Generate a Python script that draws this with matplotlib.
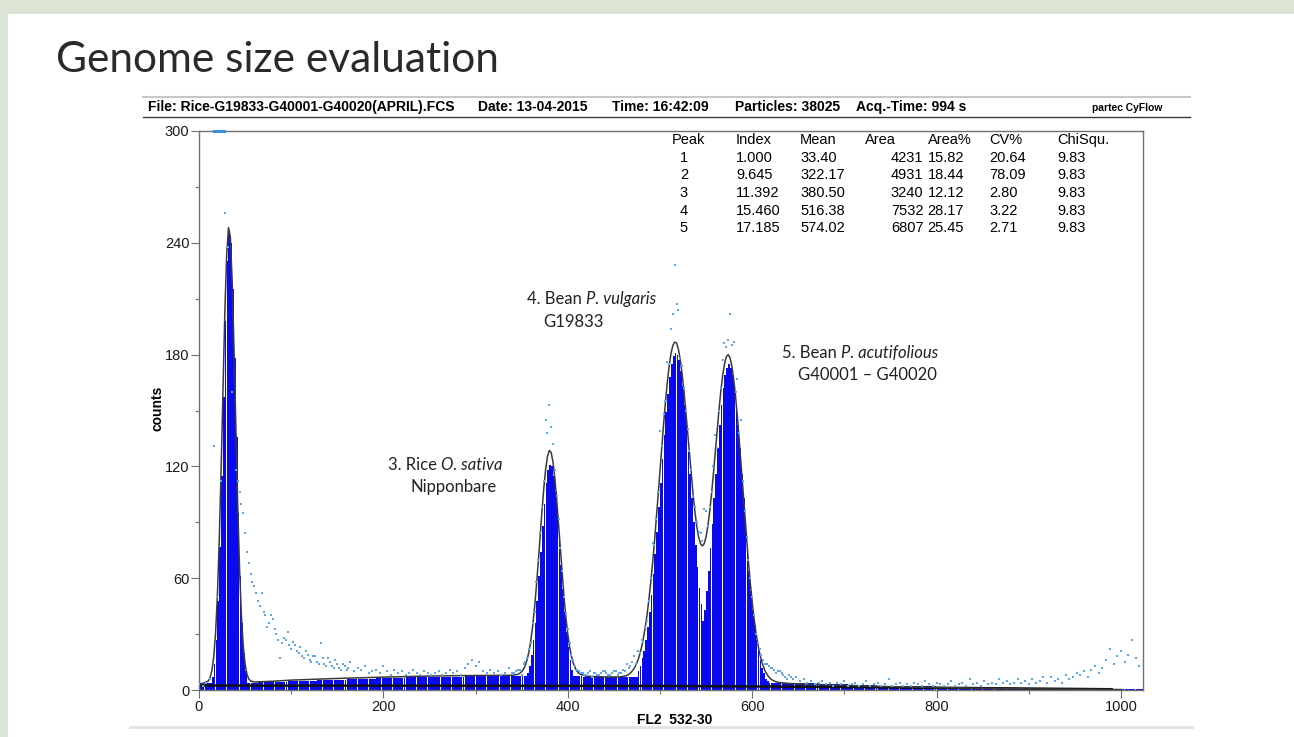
import numpy as np
import matplotlib
matplotlib.use("Agg")
import matplotlib.pyplot as plt
from matplotlib.lines import Line2D
from matplotlib.patches import Rectangle
from matplotlib.ticker import MultipleLocator

# ---------------- data ----------------
title = "Genome size evaluation"
header_file = "File: Rice-G19833-G40001-G40020(APRIL).FCS"
header_date = "Date: 13-04-2015"
header_time = "Time: 16:42:09"
header_particles = "Particles: 38025"
header_acq = "Acq.-Time: 994 s"
header_brand = "partec CyFlow"

x_label = "FL2  532-30"
y_label = "counts"
x_ticks = [0, 200, 400, 600, 800, 1000]
y_ticks = [0, 60, 120, 180, 240, 300]

table_header = ["Peak", "Index", "Mean", "Area", "Area%", "CV%", "ChiSqu."]
peak_ids = ["1", "2", "3", "4", "5"]
index_vals = ["1.000", "9.645", "11.392", "15.460", "17.185"]
mean_vals = ["33.40", "322.17", "380.50", "516.38", "574.02"]
area_vals = ["4231", "4931", "3240", "7532", "6807"]
area_pct_vals = ["15.82", "18.44", "12.12", "28.17", "25.45"]
cv_vals = ["20.64", "78.09", "2.80", "3.22", "2.71"]
chi_vals = ["9.83", "9.83", "9.83", "9.83", "9.83"]

# background bar level per 32-channel block (channels 0..1023)
baseline_levels = [3.5, 4, 4.5, 5, 5.5, 6, 6.5, 7, 7, 7.5, 7.5, 7.5, 7.5, 7, 7, 6.5,
                   6, 5.5, 5, 4, 3.5, 3, 2.5, 2, 2, 1.5, 1.5, 1, 1, 1, 0.5, 0.5]

# peak bars, 2-channel bins
peak1_start = 12
peak1_bars = [3, 7, 14, 27, 48, 77, 115, 157, 198, 230, 247, 240, 215, 178, 136, 95,
              61, 36, 20, 10, 4, 2, 1]
rice_start = 350
rice_bars = [2, 3, 5, 9, 13, 19, 27, 36, 48, 61, 74, 88, 100, 111, 118, 121, 120, 115,
             106, 94, 81, 67, 54, 42, 31, 23, 16, 11, 7, 4, 3, 1]
bean_start = 466
bean_bars = [2, 3, 4, 5, 7, 10, 13, 17, 21, 27, 34, 42, 51, 62, 73, 85, 98, 111, 124,
             137, 149, 159, 168, 175, 179, 181, 180, 177, 171, 163, 153, 142, 129, 116,
             103, 90, 78, 66, 55, 46, 37, 43, 53, 64, 76, 89, 103, 116, 130, 142, 153,
             162, 169, 173, 175, 173, 169, 162, 153, 142, 130, 116, 103, 89, 76, 64, 53,
             43, 35, 27, 21, 16, 12, 9, 6, 5, 3, 2]

# fitted curve
fit_peak1_start = 10
fit_peak1 = [4.8, 6.6, 10.4, 17.8, 30.7, 51.3, 81, 118.7, 161.1, 202, 233.4, 248.2,
             243.3, 219.3, 182.3, 139.7, 99.1, 65, 40, 23.7, 13.9, 8.5, 5.9, 4.9]
fit_rice_start = 346
fit_rice = [8.4, 9.0, 9.8, 11.2, 13.3, 16.4, 20.8, 26.8, 34.5, 44.2, 55.7, 68.5, 82.2,
            95.8, 108.2, 118.4, 125.4, 128.6, 127.5, 122.3, 113.6, 102.2, 88.9, 75.1,
            61.8, 49.6, 38.9, 30.1, 23.2, 18.1, 14.4, 11.9, 10.1, 9.0, 8.4]
fit_bean_start = 462
fit_bean = [7.5, 7.8, 8.3, 9.1, 10.2, 11.6, 13.4, 15.9, 19.0, 22.9, 27.7, 33.5, 40.4,
            48.5, 57.6, 67.9, 79.2, 91.4, 104.3, 117.2, 130.3, 142.9, 154.7, 165.2,
            173.9, 180.6, 184.9, 186.7, 186.3, 182.9, 177.4, 169.8, 160.5, 149.8, 138.4,
            126.9, 115.4, 104.8, 95.5, 87.7, 82, 78.5, 77.3, 78.5, 82.1, 88, 95.9, 105.4,
            116.1, 127.5, 139.1, 150.1, 160.2, 168.6, 174.9, 178.8, 180, 178.3, 173.9,
            166.8, 157.7, 146.6, 134.3, 121, 107.4, 93.9, 80.9, 68.6, 57.5, 47.5, 38.8,
            31.4, 25.1, 20.1, 16, 12.8, 10.3, 8.5, 7.1, 6.0, 5.3, 4.8, 4.4, 4.2, 4.0]
fit_bg_ch = [0, 5, 60, 80, 100, 150, 200, 250, 300, 340, 420, 440, 456, 640, 660, 700,
             750, 800, 850, 900, 950, 1000]
fit_bg_ct = [3.4, 3.6, 4.3, 4.7, 5.3, 6.2, 6.9, 7.5, 7.8, 7.9, 7.4, 7.0, 7.0, 3.5, 3.1,
             2.5, 1.8, 1.3, 0.9, 0.55, 0.35, 0.25]

# dark floor line
floor_ch = [0, 500, 700, 850, 990]
floor_ct = [2.4, 2.2, 1.6, 1.0, 0.4]

# raw data points, every 4 channels from 0
dots_a = [3, 2, 4, 6, 131, 50, 112, 256, 238, 160, 118, 106, 95, 74, 62, 56,
          48, 52, 40, 36, 38, 30, 17, 28, 31, 22, 24, 20, 18, 21, 16, 18,
          15, 25, 14, 17, 13, 16, 12, 14, 11, 15, 10, 12, 11, 13, 9, 10,
          11, 9, 13, 10, 8, 11, 9, 10, 8, 9, 11, 9, 8, 10, 9, 8,
          9, 10, 8, 9, 11, 9, 10, 8, 12, 14, 16, 13, 15, 10, 9, 11,
          9, 10, 8, 9, 12, 9, 10, 11, 14, 17, 25, 42, 70, 98, 145, 153,
          132, 104, 76, 50, 33, 19, 13, 10, 9, 8, 10, 9, 8, 9, 10, 8,
          9, 10, 9, 11, 14, 13, 18, 21, 27, 34, 48, 79, 92, 139, 148, 176,
          194, 228, 204, 174, 150, 128, 104, 90, 84, 97, 88, 106, 137, 150, 177, 184,
          202, 187, 167, 145, 96, 70, 50, 30, 22, 16, 14, 12, 11, 10, 9, 7,
          8, 6, 7, 5, 6, 4, 5, 3, 4, 5, 3, 4, 2, 4, 3, 5,
          2, 3, 4, 2, 3, 5, 2, 3, 4, 2, 3, 6, 2, 3, 4, 2,
          3, 2, 4, 3, 2, 5, 3, 2, 4, 3, 2, 3, 5, 2, 3, 4,
          2, 6, 3, 4, 2, 5, 3, 4, 3, 6, 4, 5, 3, 4, 6, 4,
          5, 3, 6, 4, 5, 7, 4, 7, 5, 6, 4, 8, 6, 7, 9, 8,
          10, 7, 11, 13, 9, 12, 16, 22, 14, 18, 21, 15, 19, 27, 17, 13]
# extra points in the debris tail, every 4 channels from 42
dots_tail_start = 42
dots_tail = [112, 100, 84, 68, 58, 52, 45, 42, 34, 40, 33, 27, 25, 27, 24, 26, 21, 23,
             17, 19, 15, 18, 14, 17, 13, 15, 12, 14, 11, 13, 12]
# extra points around the peaks, every 4 channels from 342
dots_peaks_start = 342
dots_peaks = [9, 11, 8, 15, 22, 36, 58, 84, 112, 138, 141, 118, 92, 64, 41, 25, 16, 11,
              9, 8, 9, 7, 9, 8, 10, 9, 8, 10, 8, 9, 10, 12, 15, 14, 20, 26, 37, 60, 78,
              106, 131, 155, 175, 202, 207, 178, 162, 140, 118, 98, 85, 80, 96, 98, 120,
              130, 162, 186, 188, 185, 160, 138, 112, 82, 60, 40, 25, 19, 14, 13, 12, 9,
              10, 8, 6, 7]
# off-scale points drawn on the top edge
top_mark_ch = [16, 27]
top_mark_ct = [300, 300]

# ---------------- figure ----------------
W, H = 1294, 737
plt.rcParams['font.family'] = ['Liberation Sans', 'DejaVu Sans']


def fx(px):
    return px / W


def fy(py):
    return 1 - py / H


fig = plt.figure(figsize=(W / 100, H / 100), dpi=100, facecolor='#dce4d6')
fig.add_artist(Rectangle((fx(8), 0), 1, fy(14), transform=fig.transFigure,
                         facecolor='white', edgecolor='none', zorder=-1))

ax = fig.add_axes([fx(199), fy(690), (1143 - 199) / W, (690 - 131) / H])
ax.set_facecolor('white')

# bars
bar_heights = np.repeat(np.array(baseline_levels, float), 16)
for start, vals in [(peak1_start, peak1_bars), (rice_start, rice_bars), (bean_start, bean_bars)]:
    i0 = start // 2
    seg = bar_heights[i0:i0 + len(vals)]
    bar_heights[i0:i0 + len(vals)] = np.maximum(seg, vals)
bar_ch = np.arange(len(bar_heights)) * 2
ax.bar(bar_ch, bar_heights, width=1.8, align='edge', color='#0a0aee',
       edgecolor='none', linewidth=0, antialiased=False, zorder=1)

# floor line
ax.plot(floor_ch, floor_ct, color='#111111', lw=1.8, zorder=2)

# fit curve
fch, fct = list(fit_bg_ch), list(fit_bg_ct)
for start, vals in [(fit_peak1_start, fit_peak1), (fit_rice_start, fit_rice), (fit_bean_start, fit_bean)]:
    fch += list(start + 2 * np.arange(len(vals)))
    fct += list(vals)
order = np.argsort(fch)
ax.plot(np.array(fch)[order], np.array(fct)[order], color='#3a3a3a', lw=1.1, zorder=3)

# raw points
dot_col = '#5aa8f2'
for start, vals in [(0, dots_a), (dots_tail_start, dots_tail), (dots_peaks_start, dots_peaks)]:
    ax.scatter(start + 4 * np.arange(len(vals)), vals, s=4, marker='s', c=dot_col,
               linewidths=0, zorder=4)
ax.plot(top_mark_ch, top_mark_ct, color='#3d8fe0', lw=2.2, clip_on=False, zorder=5)

ax.set_xlim(0, 1024)
ax.set_ylim(0, 300)
ax.set_xticks(x_ticks)
ax.set_xticklabels([str(v) for v in x_ticks])
ax.set_yticks(y_ticks)
ax.set_yticklabels([str(v) for v in y_ticks])
ax.xaxis.set_minor_locator(MultipleLocator(100))
ax.yaxis.set_minor_locator(MultipleLocator(30))
ax.tick_params(which='major', direction='out', length=6, width=0.8, color='#707070',
               labelsize=10.5, labelcolor='#1a1a1a', pad=1)
ax.tick_params(which='minor', direction='out', length=3, width=0.8, color='#707070')
for s in ax.spines.values():
    s.set_color('#707070')
    s.set_linewidth(1.0)

# axis labels
fig.text(fx(675), fy(720), x_label, weight='bold', fontsize=10, ha='center', va='center')
fig.text(fx(157), fy(408), y_label, weight='bold', fontsize=10, ha='center', va='center',
         rotation=90)

# table
tfs = 10.5
row_y = [140 + 17.7 * k for k in range(6)]
col_left = {'Peak': 672, 'Index': 736, 'Mean': 800, 'Area': 865, 'Area%': 927.7,
            'CV%': 989.5, 'ChiSqu.': 1057}
for name in table_header:
    fig.text(fx(col_left[name]), fy(row_y[0]), name, fontsize=tfs, va='center', ha='left')
for k in range(5):
    y = fy(row_y[k + 1])
    fig.text(fx(684), y, peak_ids[k], fontsize=tfs, va='center', ha='center')
    fig.text(fx(736), y, index_vals[k], fontsize=tfs, va='center', ha='left')
    fig.text(fx(800), y, mean_vals[k], fontsize=tfs, va='center', ha='left')
    fig.text(fx(923.5), y, area_vals[k], fontsize=tfs, va='center', ha='right')
    fig.text(fx(927.7), y, area_pct_vals[k], fontsize=tfs, va='center', ha='left')
    fig.text(fx(989.5), y, cv_vals[k], fontsize=tfs, va='center', ha='left')
    fig.text(fx(1057), y, chi_vals[k], fontsize=tfs, va='center', ha='left')

# header
hfs = 10
fig.text(fx(148), fy(107), header_file, weight='bold', fontsize=hfs, va='center')
fig.text(fx(478), fy(107), header_date, weight='bold', fontsize=hfs, va='center')
fig.text(fx(709), fy(107), header_time, weight='bold', fontsize=hfs, va='center', ha='right')
fig.text(fx(735), fy(107), header_particles, weight='bold', fontsize=hfs, va='center')
fig.text(fx(856), fy(107), header_acq, weight='bold', fontsize=hfs, va='center')
fig.text(fx(1092), fy(108), header_brand, weight='bold', fontsize=7.4, va='center')
fig.add_artist(Line2D([fx(143), fx(1190)], [fy(97), fy(97)], color='#c8c8c8', lw=1.5))
fig.add_artist(Line2D([fx(143), fx(1190)], [fy(117), fy(117)], color='#3c3c3c', lw=1.0))
fig.add_artist(Line2D([fx(130), fx(1192)], [fy(727), fy(727)], color='#e2e2e2', lw=2))

# title
fig.text(fx(56), fy(60), title, fontsize=30.5, family=['Lato', 'DejaVu Sans'], weight='normal',
         va='center', ha='left', color='#2a2a2a')

# annotations (regular + italic parts)
afs = 12
afam = ['Lato', 'DejaVu Sans']


def two_part(px, py, regular, italic):
    t1 = fig.text(fx(px), fy(py), regular, fontsize=afs, family=afam, va='center',
                  ha='left', color='#222222')
    if italic:
        ax.annotate(italic, xy=(1, 0.5), xycoords=t1, fontsize=afs, family=afam,
                    style='italic', va='center', ha='left', color='#222222',
                    annotation_clip=False)


two_part(388, 465, "3. Rice ", "O. sativa")
two_part(410, 487, "Nipponbare", None)
two_part(527, 299, "4. Bean ", "P. vulgaris")
two_part(543, 322, "G19833", None)
two_part(782, 353, "5. Bean ", "P. acutifolious")
two_part(798, 375, "G40001 \u2013 G40020", None)

fig.savefig("out.png", dpi=100, facecolor=fig.get_facecolor())
